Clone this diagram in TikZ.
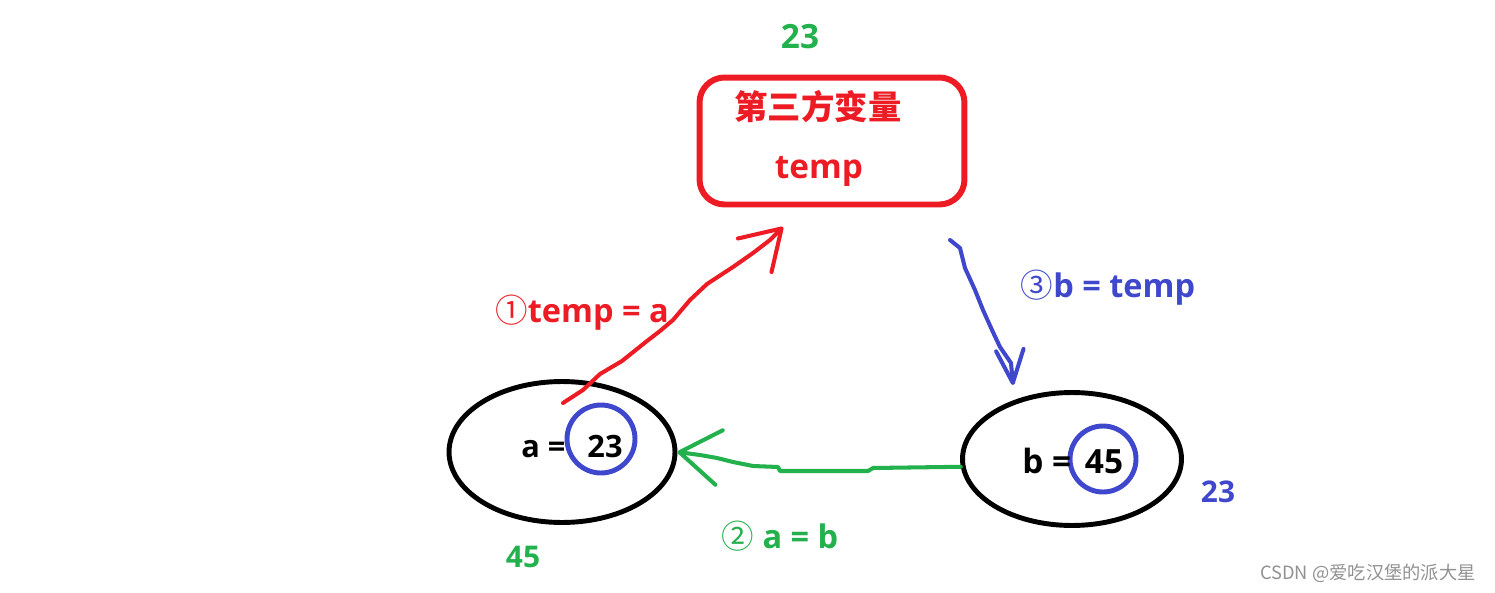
\documentclass[tikz,border=0pt]{standalone}
\usepackage{fontspec}
\setmainfont{Open Sans}
\newfontfamily\cjk{Noto Sans CJK SC}
\usetikzlibrary{arrows.meta,shapes.geometric}
\definecolor{pred}{RGB}{237,28,36}
\definecolor{pgreen}{RGB}{34,177,76}
\definecolor{pblue}{RGB}{63,72,204}
\definecolor{wmgray}{RGB}{145,145,145}
\newcommand\fsz[1]{\fontsize{#1}{#1}\selectfont\bfseries}
\tikzset{
  tmpbox/.style={draw=pred, line width=3.4pt, rounded corners=0.5cm,
                 minimum width=5.3cm, minimum height=2.54cm},
  varell/.style={ellipse, draw=black, line width=2.8pt, inner sep=0pt},
  valcirc/.style={circle, draw=pblue, line width=2.8pt, inner sep=0pt},
  vtxt/.style={anchor=base, inner sep=0pt},
  lbl/.style={anchor=base, inner sep=0pt, font=\fsz{18.5pt}},
  numlbl/.style={anchor=base, inner sep=0pt, font=\fsz{17pt}},
  hand/.style={line width=2.3pt, line cap=round, line join=round},
  redarr/.style={hand, pred, -{Straight Barb[length=0.76cm, width=0.95cm, round]}},
  bluarr/.style={hand, pblue, -{Straight Barb[length=0.66cm, width=0.55cm, round]}},
  grnarr/.style={hand, pgreen, -{Straight Barb[length=0.8cm, width=1.1cm, round]}},
}
\begin{document}
\begin{tikzpicture}[x=0.02cm, y=-0.02cm]
  \useasboundingbox (0,0) rectangle (1495,592);
  % third variable
  \node[numlbl, text=pgreen, font=\fsz{19pt}] (tmpold) at (800,48) {23};
  \node[tmpbox] (tmp) at (832,141) {};
  \node[vtxt, text=pred, font=\cjk\fsz{19pt}] (tmpname) at (818,119) {第三方变量};
  \node[vtxt, text=pred, font=\fsz{19pt}] (tmpvar) at (819,178) {temp};
  % variable a
  \node[varell, minimum width=4.52cm, minimum height=2.82cm] (vara) at (562,452) {};
  \node[valcirc, minimum size=1.36cm] (vala) at (601,439) {};
  \node[vtxt, anchor=base west, font=\fsz{17.5pt}] (aeq) at (521,457) {a =};
  \node[vtxt, font=\fsz{17.5pt}] (aval) at (605,457) {23};
  \node[numlbl, text=pgreen] (anew) at (523,567) {45};
  % variable b
  \node[varell, minimum width=4.38cm, minimum height=2.66cm] (varb) at (1072,459) {};
  \node[valcirc, minimum size=1.32cm] (valb) at (1103,459) {};
  \node[vtxt, anchor=base west, font=\fsz{19pt}] (beq) at (1022,473) {b =};
  \node[vtxt, font=\fsz{19pt}] (bval) at (1104,473) {45};
  \node[numlbl, text=pblue] (bnew) at (1218,502) {23};
  % steps
  \coordinate (aout) at (563,403);
  \coordinate (tmpin) at (783,227);
  \coordinate (tmpout) at (950,240);
  \coordinate (bin) at (1013,385);
  \draw[redarr] (aout) -- (583,390) -- (600,374) -- (622,361) -- (647,341) -- (660,331)
     -- (673,320) -- (690,300) -- (707,284) -- (733,267) -- (753,253) -- (770,240) -- (tmpin);
  \draw[bluarr] (tmpout) -- (960,248) -- (965,268) -- (975,290) -- (983,310) -- (992,330)
     -- (1000,347) -- (1011,363) -- (bin);
  \draw[grnarr] (varb.184) -- (873,468) -- (868,471) -- (780,471) -- (778,467) -- (753,466)
     -- (733,462) -- (717,458) -- (700,455) -- (vara.east);
  \node[lbl, text=pred] (step1) at (582,322) {{\cjk\mdseries ①}temp = a};
  \node[lbl, text=pgreen] (step2) at (780,548) {{\cjk\mdseries ②} a = b};
  \node[lbl, text=pblue] (step3) at (1108,297) {{\cjk\mdseries ③}b = temp};
  \node[anchor=base, inner sep=0pt, text=wmgray, font=\cjk\fontsize{10.4pt}{12pt}\selectfont]
     (wm) at (1368,579) {CSDN @爱吃汉堡的派大星};
\end{tikzpicture}
\end{document}
